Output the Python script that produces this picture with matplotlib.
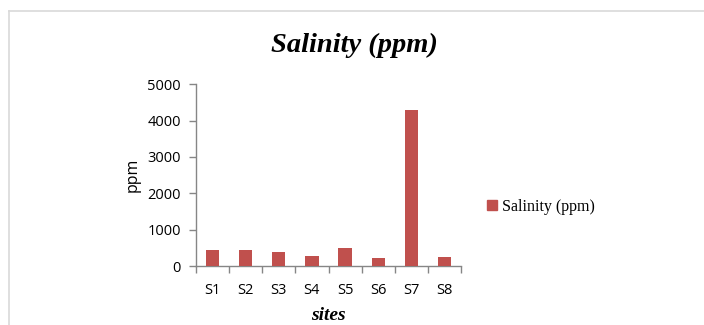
import matplotlib
matplotlib.use("Agg")
import matplotlib.pyplot as plt
from matplotlib.lines import Line2D
import numpy as np

sites = ["S1", "S2", "S3", "S4", "S5", "S6", "S7", "S8"]
salinity = [440, 440, 395, 265, 485, 210, 4285, 248]
yticks = [0, 1000, 2000, 3000, 4000, 5000]

W, H = 704, 325
fig = plt.figure(figsize=(W / 100, H / 100), dpi=100)
ax = fig.add_axes([196 / W, 1 - 266 / H, (461 - 196) / W, (266 - 84.3) / H])

x = np.arange(len(sites))
bars = ax.bar(x, salinity, width=0.4, color="#C0504D", label="Salinity (ppm)", zorder=3)

ax.set_xlim(-0.5, len(sites) - 0.5)
ax.set_ylim(0, 5000)
ax.set_yticks(yticks)
ax.set_yticklabels([str(v) for v in yticks], family="Open Sans", fontsize=10.5)

ax.set_xticks(np.arange(len(sites) + 1) - 0.5)
ax.set_xticklabels([])
ax.set_xticks(x, minor=True)
ax.set_xticklabels(sites, minor=True, family="Open Sans", fontsize=10.5)
ax.tick_params(axis="x", which="minor", length=0, pad=12)
ax.tick_params(axis="x", which="major", length=5, color="#868686", width=1)
ax.tick_params(axis="y", length=5, color="#868686", width=1, pad=6)

for s in ["top", "right"]:
    ax.spines[s].set_visible(False)
for s in ["left", "bottom"]:
    ax.spines[s].set_color("#868686")
    ax.spines[s].set_linewidth(1)

ax.set_ylabel("ppm", family="Open Sans", fontsize=11.5, labelpad=5)
ax.set_xlabel("sites", family="Liberation Serif", fontsize=14, fontweight="bold",
              fontstyle="italic", labelpad=7)

fig.text(354 / W, 1 - 45 / H, "Salinity (ppm)", family="Liberation Serif", fontsize=20.5,
         fontweight="bold", fontstyle="italic", ha="center", va="center")

handles = [Line2D([], [], marker="s", linestyle="none", markersize=6.5,
                  markerfacecolor="#C0504D", markeredgecolor="#C0504D")]
fig.legend(handles, ["Salinity (ppm)"], loc="center left", bbox_to_anchor=(478 / W, 1 - 207 / H),
           frameon=False, prop={"family": "Liberation Serif", "size": 11.5},
           handletextpad=0.1, handlelength=1.0, borderaxespad=0)

# partial outer border (left and top)
fig.add_artist(Line2D([8.5 / W, 8.5 / W], [0, 1 - 10.5 / H], transform=fig.transFigure,
                      color="#d9d9d9", lw=1.2))
fig.add_artist(Line2D([8.5 / W, 1], [1 - 10.5 / H, 1 - 10.5 / H], transform=fig.transFigure,
                      color="#d9d9d9", lw=1.2))

fig.savefig("out.png", dpi=100)
